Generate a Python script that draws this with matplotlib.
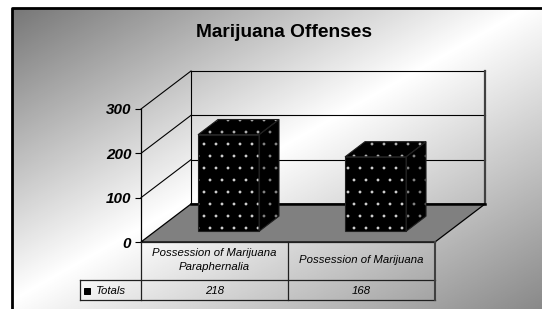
import textwrap
import numpy as np
import matplotlib
matplotlib.use('Agg')
import matplotlib.pyplot as plt
from matplotlib.patches import Polygon

# chart data
title = 'Marijuana Offenses'
categories = ['Possession of Marijuana Paraphernalia', 'Possession of Marijuana']
totals = [218, 168]
series_name = 'Totals'
y_ticks = [0, 100, 200, 300]

W, H = 542, 309
DPI = 72          # lower dpi so the dotted hatch is as fine as the original
PT = 100 / DPI    # sizes below are written for 100 dpi and scaled by this
plt.rcParams['font.family'] = ['Liberation Sans', 'DejaVu Sans']
plt.rcParams['hatch.linewidth'] = 0.3

fig = plt.figure(figsize=(W / DPI, H / DPI), dpi=DPI)

# background: diagonal grey-white-grey gradient inside a frame
bg = fig.add_axes([0, 0, 1, 1], zorder=-10)
g = np.linspace(0, 1, 300)
uu, vv = np.meshgrid(g, g)
s = uu + vv
c = 0.97
shade = np.where(s < c, 1 - 0.55 * (c - s), 1 - 0.45 * (s - c))
bg.imshow(shade, cmap='gray', vmin=0, vmax=1, extent=(12, W + 1, H + 1, 8),
          aspect='auto', interpolation='bilinear')
bg.plot([12, 12, W + 5], [H + 5, 8, 8], color='black', lw=2 * PT)
bg.set_xlim(0, W)
bg.set_ylim(H, 0)
bg.axis('off')

# front plane of the 3-D plot, in pixels
X0, X1 = 141, 435
Y0, Y1 = 242, 109
n = len(categories)
ymax = y_ticks[-1]
ax = fig.add_axes([X0 / W, 1 - Y0 / H, (X1 - X0) / W, (Y0 - Y1) / H])
ax.set_xlim(0, n)
ax.set_ylim(0, ymax)
ax.patch.set_visible(False)
cw = (X1 - X0) / n
DX = 50 / cw                       # depth offset in x units
DY = 38 / ((Y0 - Y1) / ymax)       # depth offset in value units

for sp in ['top', 'right', 'bottom']:
    ax.spines[sp].set_visible(False)
ax.spines['left'].set_linewidth(0.9 * PT)
ax.set_xticks([])
ax.set_yticks(y_ticks)
ax.tick_params(axis='y', direction='out', length=4 * PT, width=0.8 * PT,
               pad=3 * PT, labelsize=11 * PT)
for lbl in ax.get_yticklabels():
    lbl.set_fontweight('bold')
    lbl.set_fontstyle('italic')

# floor
ax.add_patch(Polygon([(0, 0), (n, 0), (n + DX, DY), (DX, DY)], closed=True,
                     fc='#808080', ec='black', lw=0.9 * PT, clip_on=False,
                     zorder=2))
ax.plot([DX, n + DX], [DY, DY], color='black', lw=1.8 * PT, clip_on=False,
        zorder=2)

# walls
for t in y_ticks[1:]:
    ax.plot([0, DX], [t, t + DY], color='black', lw=0.8 * PT, clip_on=False,
            zorder=1)
    ax.plot([DX, n + DX], [t + DY, t + DY], color='black', lw=0.8 * PT,
            clip_on=False, zorder=1)
ax.plot([DX, DX], [DY, ymax + DY], color='black', lw=0.8 * PT, clip_on=False,
        zorder=1)
ax.plot([n + DX, n + DX], [DY, ymax + DY], color='#404040', lw=1.6 * PT,
        clip_on=False, zorder=1)

# bars
bw = 0.415
z0, bd = 0.28, 0.4
for i, v in enumerate(totals):
    x0 = i + 0.5 - bw / 2 + z0 * DX
    y0 = z0 * DY
    ddx, ddy = bd * DX, bd * DY
    front = [(x0, y0), (x0 + bw, y0), (x0 + bw, y0 + v), (x0, y0 + v)]
    top = [(x0, y0 + v), (x0 + bw, y0 + v), (x0 + bw + ddx, y0 + v + ddy),
           (x0 + ddx, y0 + v + ddy)]
    side = [(x0 + bw, y0), (x0 + bw + ddx, y0 + ddy),
            (x0 + bw + ddx, y0 + v + ddy), (x0 + bw, y0 + v)]
    for pts, dot in [(front, '#d8d8d8'), (top, '#b8b8b8'), (side, '#888888')]:
        ax.add_patch(Polygon(pts, closed=True, fc='black', ec=dot, lw=0,
                             hatch='.', clip_on=False, zorder=3))
        ax.add_patch(Polygon(pts, closed=True, fill=False, ec='#202020',
                             lw=0.8 * PT, clip_on=False, zorder=4))

# data table under the plot
TL, TB = 80, 300
tax = fig.add_axes([TL / W, 1 - TB / H, (X1 - TL) / W, (TB - Y0) / H])
xl = -(X0 - TL) / cw
tax.set_xlim(xl, n)
tax.set_ylim(0, TB - Y0)
tax.axis('off')
r1 = 20
kw = dict(color='#202020', lw=0.9 * PT, clip_on=False)
tax.plot([0, n], [TB - Y0, TB - Y0], **kw)
tax.plot([xl, n], [r1, r1], **kw)
tax.plot([xl, n], [0, 0], **kw)
tax.plot([xl, xl], [0, r1], **kw)
for k in range(n):
    tax.plot([k, k], [0, TB - Y0], **kw)
tax.plot([n, n], [0, TB - Y0], color='#404040', lw=1.5 * PT, clip_on=False)

for i, (cat, v) in enumerate(zip(categories, totals)):
    tax.text(i + 0.5, 40, textwrap.fill(cat, 24), ha='center', va='center',
             fontsize=8.2 * PT, fontstyle='italic', linespacing=1.4)
    tax.text(i + 0.5, 9.5, str(v), ha='center', va='center',
             fontsize=8.2 * PT, fontstyle='italic')
tax.plot([xl + 0.05], [9.5], marker='s', ms=5 * PT, color='black',
         clip_on=False)
tax.text(xl + 0.11, 9.5, series_name, ha='left', va='center',
         fontsize=8.2 * PT, fontstyle='italic')

fig.text(284 / W, 1 - 37 / H, title, ha='center', va='baseline',
         fontsize=13.8 * PT, fontweight='bold')

fig.savefig('out.png', dpi=DPI)
